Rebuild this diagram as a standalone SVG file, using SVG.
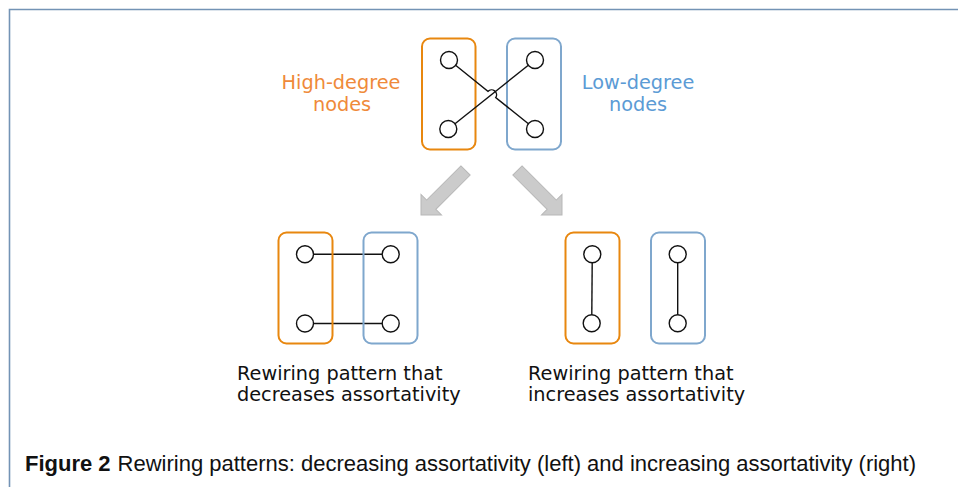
<svg xmlns="http://www.w3.org/2000/svg" width="958" height="487" viewBox="0 0 958 487">
<style>
.hi{fill:none;stroke:#e8870f;stroke-width:2}
.lo{fill:none;stroke:#7fa7cd;stroke-width:2}
.nd{fill:#fff;stroke:#111;stroke-width:1.4}
.ed{fill:none;stroke:#111;stroke-width:1.4}
.lbl{font-family:"DejaVu Sans",Verdana,sans-serif;font-size:19.3px}
.arr{fill:#cbcbcb;stroke:#b8b8b8;stroke-width:1}
.cap{font-family:"Liberation Sans",Arial,sans-serif;font-size:22px;fill:#111}
</style>
<rect width="958" height="487" fill="#fff"/>
<path d="M9.5,487 V9.5 H958" fill="none" stroke="#7393b5" stroke-width="1.6"/>

<g id="top-high-group">
<rect class="hi" x="422" y="38.5" width="53.5" height="111" rx="8"/>
</g>
<g id="top-low-group">
<rect class="lo" x="507" y="38.5" width="54" height="111" rx="8"/>
</g>
<g id="connectors">
<path class="ed" d="M455.6,65.3 L487.9,91.4 A5,5 0 0 1 495.7,97.6 L528.4,123.7"/>
<path class="ed" d="M455,123.7 L528.3,65.3"/>
<path class="ed" d="M313.5,254.3 H382"/>
<path class="ed" d="M313.5,323.5 H382"/>
<path class="ed" d="M592.2,262.8 L591.8,314.8"/>
<path class="ed" d="M677.7,262.8 V314.8"/>
</g>
<g id="top-nodes">
<circle class="nd" cx="449" cy="60" r="8.5"/>
<circle class="nd" cx="448.3" cy="129" r="8.5"/>
<circle class="nd" cx="535" cy="60" r="8.5"/>
<circle class="nd" cx="535" cy="129" r="8.5"/>
</g>
<g id="label-high">
<text class="lbl" fill="#ef8a3a" text-anchor="middle" x="341" y="89">High-degree</text>
<text class="lbl" fill="#ef8a3a" text-anchor="middle" x="342" y="110.5">nodes</text>
</g>
<g id="label-low">
<text class="lbl" fill="#5b9bd5" text-anchor="middle" x="638" y="89">Low-degree</text>
<text class="lbl" fill="#5b9bd5" text-anchor="middle" x="638" y="110.5">nodes</text>
</g>
<g id="arrow-left">
<polygon class="arr" transform="translate(421,215) rotate(135)" points="0,0 -14.5,-14.5 -14.5,-6.5 -63,-6.5 -63,6.5 -14.5,6.5 -14.5,14.5"/>
</g>
<g id="arrow-right">
<polygon class="arr" transform="translate(562,215) rotate(45)" points="0,0 -14.5,-14.5 -14.5,-6.5 -63,-6.5 -63,6.5 -14.5,6.5 -14.5,14.5"/>
</g>
<g id="left-pattern">
<rect class="hi" x="278.5" y="232.5" width="54" height="111" rx="8"/>
<rect class="lo" x="363.5" y="232.5" width="54" height="111" rx="8"/>
<circle class="nd" cx="305" cy="254.3" r="8.5"/>
<circle class="nd" cx="390.7" cy="254.3" r="8.5"/>
<circle class="nd" cx="305" cy="323.5" r="8.5"/>
<circle class="nd" cx="390.7" cy="323.5" r="8.5"/>
<text class="lbl" fill="#111" x="237" y="380">Rewiring pattern that</text>
<text class="lbl" fill="#111" x="237" y="401">decreases assortativity</text>
</g>
<g id="right-pattern">
<rect class="hi" x="565.5" y="232.5" width="54" height="111" rx="8"/>
<rect class="lo" x="651" y="232.5" width="54" height="111" rx="8"/>
<circle class="nd" cx="592.3" cy="254.3" r="8.5"/>
<circle class="nd" cx="591.7" cy="323.3" r="8.5"/>
<circle class="nd" cx="677.7" cy="254.3" r="8.5"/>
<circle class="nd" cx="677.7" cy="323.3" r="8.5"/>
<text class="lbl" fill="#111" x="528" y="380">Rewiring pattern that</text>
<text class="lbl" fill="#111" x="528" y="401">increases assortativity</text>
</g>
<g id="caption">
<text class="cap" x="25" y="471"><tspan font-weight="bold">Figure 2</tspan><tspan dx="7">Rewiring patterns: decreasing assortativity (left) and increasing assortativity (right)</tspan></text>
</g>
</svg>
